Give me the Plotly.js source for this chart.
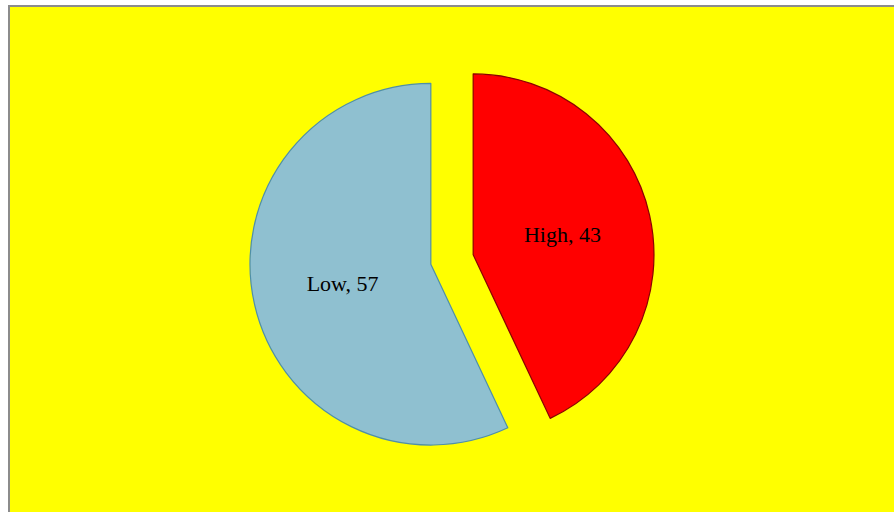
<!DOCTYPE html>
<html>
<head>
<meta charset="utf-8">
<script src="https://cdn.plot.ly/plotly-3.0.1.min.js"></script>
<style>
  html, body { margin: 0; padding: 0; background: #ffffff; overflow: hidden; }
  #frame { position: absolute; left: 8px; top: 5px; width: 886px; height: 507px;
           border-top: 2px solid #8c8c8c; border-left: 2px solid #8c8c8c; box-sizing: border-box; }
  #chart { width: 884px; height: 505px; }
</style>
</head>
<body>
<div id="frame"><div id="chart"></div></div>
<script>
const categories = ["High", "Low"];
const values = [43, 57];
const sliceColors = ["#ff0000", "#8fc0d0"];
const lineColors = ["#8b0000", "#4f8fa8"];

const trace = {
  type: "pie",
  labels: categories,
  values: values,
  sort: false,
  direction: "clockwise",
  rotation: 0,
  pull: [0.12, 0.12],
  marker: { colors: sliceColors, line: { color: lineColors, width: 1.2 } },
  texttemplate: "%{label}, %{value}",
  textposition: "inside",
  insidetextorientation: "horizontal",
  textfont: { family: "Liberation Serif, Times New Roman, serif", size: 22, color: "#000000" },
  hoverinfo: "label+value",
  showlegend: false
};

const layout = {
  width: 884, height: 505,
  paper_bgcolor: "#ffff00",
  plot_bgcolor: "#ffff00",
  margin: { l: 20, r: 20, t: 50, b: 50 },
  showlegend: false
};

Plotly.newPlot("chart", [trace], layout, { displayModeBar: false, staticPlot: true });
</script>
</body>
</html>
